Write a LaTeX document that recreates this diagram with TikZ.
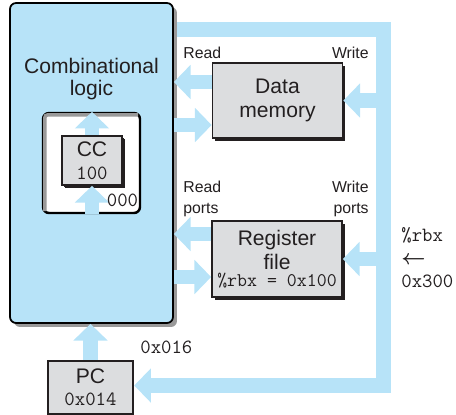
\documentclass[tikz,border=0pt]{standalone}
\usepackage{fontspec}
\setsansfont{Liberation Sans}
\usetikzlibrary{arrows.meta,calc,shadows}

\definecolor{busblue}{RGB}{183,227,248}
\definecolor{boxgray}{RGB}{220,221,223}
\definecolor{inkgray}{RGB}{35,31,32}

\tikzset{
  unitbox/.style={draw=inkgray, fill=boxgray, line width=1pt, text=inkgray, align=center,
    inner sep=0pt, font=\sffamily\fontsize{12}{14}\selectfont,
    drop shadow={shadow xshift=0.055cm, shadow yshift=-0.055cm, fill=inkgray, opacity=1}},
  flow/.style={draw=busblue, line width=8.5pt, -{Triangle[width=19pt,length=9.5pt]}},
  tag/.style={text=inkgray, inner sep=0pt, font=\sffamily\fontsize{9}{12}\selectfont},
  hexlabel/.style={text=inkgray, inner sep=0pt, font=\ttfamily\fontsize{11.5}{13}\selectfont}
}

\begin{document}
\begin{tikzpicture}[x=0.02cm, y=-0.02cm]
\useasboundingbox (0,0) rectangle (456,414);

% Program counter
\node[draw=inkgray, fill=boxgray, line width=1.4pt, text=inkgray, align=center, inner sep=0pt,
  minimum width=1.7cm, minimum height=1.06cm, font=\sffamily\fontsize{12}{12.5}\selectfont]
  (pc) at (90.5,387.5) {PC\\{\ttfamily\fontsize{11.5}{12.5}\selectfont 0x014}};

% Bus running round the right side back to the PC
\coordinate (busA) at (160,29.5);
\coordinate (busB) at (383.5,29.5);
\coordinate (busC) at (383.5,385.5);
\draw[draw=busblue, line width=9pt, line join=miter, -{Triangle[width=19pt,length=9.5pt]}]
  (busA) -- (busB) -- (busC) -- (busC -| pc.east);

% Combinational logic
\node[draw=black, fill=busblue, line width=1pt, rounded corners=0.12cm,
  minimum width=3.26cm, minimum height=6.4cm,
  drop shadow={shadow xshift=0.08cm, shadow yshift=-0.08cm, fill=black!40, opacity=1}]
  (logic) at (91.5,163) {};
\node[text=inkgray, align=center, inner sep=0pt, font=\sffamily\fontsize{12}{12.5}\selectfont]
  (logictext) at (91.5,79.5) {Combinational\\logic};
\draw[flow] (pc.north) -- (pc.north |- logic.south);

% Condition codes
\node[draw=black, fill=white, line width=1.4pt, rounded corners=0.12cm,
  minimum width=1.94cm, minimum height=2cm] (inner) at (91.5,163) {};
\draw[black!40, line width=2pt, rounded corners=0.06cm]
  ($(inner.south west)+(3,-3)$) |- ($(inner.north east)+(-3,3)$);
\node[unitbox, minimum width=1.2cm, minimum height=0.98cm, drop shadow={shadow xshift=0.04cm, shadow yshift=-0.04cm, fill=inkgray, opacity=1}]
  (cc) at (92,160.5) {CC\\[-1pt]{\ttfamily\fontsize{11.5}{12}\selectfont 100}};
\draw[flow] (cc.north) -- (cc.north |- inner.north);
\draw[flow] (cc.south |- inner.south) -- (cc.south);
\node[hexlabel, anchor=east] (ccin) at (138.5,200) {000};

% Data memory
\node[unitbox, minimum width=2.6cm, minimum height=1.5cm] (dmem) at (277.5,100.5) {Data\\memory};
\coordinate (dmrd) at ($(dmem.west)+(0,-18.5)$);
\coordinate (dmwr) at ($(dmem.west)+(0,24.5)$);
\draw[flow] (dmrd) -- (dmrd -| logic.east);
\draw[flow] (dmwr -| logic.east) -- (dmwr);
\draw[flow] (busB |- dmem.east) -- (dmem.east);
\node[tag, anchor=west] (dmread) at (183,53) {Read};
\node[tag, anchor=east] (dmwrite) at (369,53) {Write};

% Register file
\node[unitbox, minimum width=2.6cm, minimum height=1.52cm] (regs) at (277,259)
  {Register\\file\\[-4.4pt]{\ttfamily\fontsize{11}{12}\selectfont \%rbx = 0x100}};
\coordinate (rgrd) at ($(regs.west)+(0,-25)$);
\coordinate (rgwr) at ($(regs.west)+(0,18)$);
\draw[flow] (rgrd) -- (rgrd -| logic.east);
\draw[flow] (rgwr -| logic.east) -- (rgwr);
\draw[flow] (busB |- regs.east) -- (regs.east);
\node[tag, anchor=west, align=left] (rgread) at (183,198.5) {Read\\ports};
\node[tag, anchor=east, align=right] (rgwrite) at (369,198.5) {Write\\ports};

% Values on the buses
\node[hexlabel, anchor=west, align=left] (update) at (401,257.5) {\%rbx\\{\boldmath$\leftarrow$}\\0x300};
\node[hexlabel, anchor=west] (nextpc) at (140,347) {0x016};
\end{tikzpicture}
\end{document}
